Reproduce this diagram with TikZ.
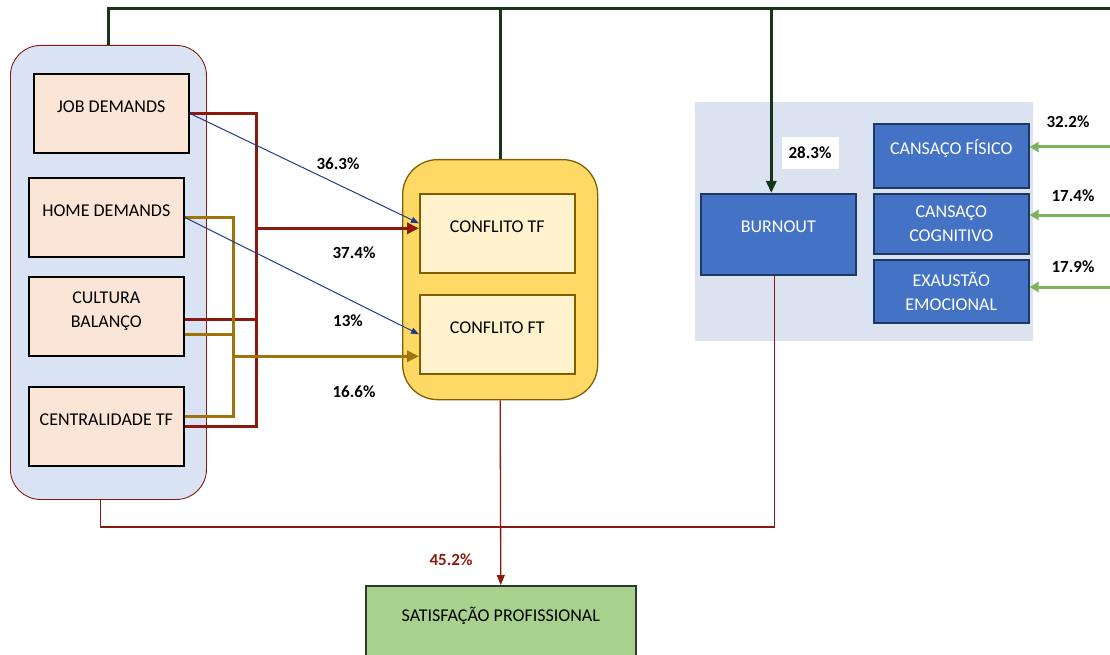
\documentclass[tikz,border=0pt]{standalone}
\usepackage{fontspec}
\setmainfont{Carlito}
\usetikzlibrary{arrows.meta}
\definecolor{ctxblue}{HTML}{DAE3F3}
\definecolor{peach}{HTML}{FBE5D6}
\definecolor{gold}{HTML}{FFD966}
\definecolor{goldedge}{HTML}{7F6000}
\definecolor{cream}{HTML}{FFF2CC}
\definecolor{darkred}{HTML}{8B1A0E}
\definecolor{ochre}{HTML}{A0740A}
\definecolor{navy}{HTML}{1F3C88}
\definecolor{topgreen}{HTML}{173617}
\definecolor{panelblue}{HTML}{DCE3F0}
\definecolor{boxblue}{HTML}{4472C4}
\definecolor{boxedge}{HTML}{1F3864}
\definecolor{leaf}{HTML}{7CB35B}
\definecolor{satgreen}{HTML}{A9D18E}
\definecolor{satedge}{HTML}{2D3B2D}
\begin{document}
\begin{tikzpicture}[x=1pt,y=-1pt,
    font=\fontsize{18}{24}\selectfont,
    inbox/.style={draw, line width=1.6pt, anchor=north west, minimum width=155pt,
        inner ysep=0pt, align=center},
    oneline/.style={text height=39pt, text depth=40pt},
    twoline/.style={text height=51pt, text depth=28pt},
    bluebox/.style={draw=boxedge, fill=boxblue, text=white, line width=1.6pt,
        anchor=north west, minimum width=155pt, align=center},
    pct/.style={font=\fontsize{17}{20}\selectfont\bfseries},
    topline/.style={topgreen, line width=3pt},
    redline/.style={darkred, line width=3pt},
    goldline/.style={ochre, line width=3pt},
    navyline/.style={navy, line width=1pt, -{Triangle[length=8pt,width=6pt]}},
    leafline/.style={leaf, line width=3pt, -{Triangle[length=9pt,width=10pt]}},
    thinred/.style={darkred, line width=1.3pt}]

    \useasboundingbox (0,0) rectangle (1110,655);

    %left block:
    \node[draw=darkred, line width=0.9pt, fill=ctxblue, rounded corners=30pt,
        minimum width=196pt, minimum height=454pt, anchor=north west] (ctx) at (10,45) {};
    \node[inbox, fill=peach, oneline] (job) at (33,73) {JOB DEMANDS};
    \node[inbox, fill=peach, oneline] (home) at (28,177) {HOME DEMANDS};
    \node[inbox, fill=peach, twoline] (cult) at (28,276) {CULTURA\\BALANÇO};
    \node[inbox, fill=peach, oneline] (cent) at (28,386) {CENTRALIDADE TF};

    %conflict block:
    \node[draw=goldedge, line width=1.3pt, fill=gold, rounded corners=35pt,
        minimum width=195pt, minimum height=240pt, anchor=north west] (conf) at (402,159) {};
    \node[inbox, draw=goldedge, fill=cream, oneline] (tf) at (419,193) {CONFLITO TF};
    \node[inbox, draw=goldedge, fill=cream, oneline] (ft) at (419,294) {CONFLITO FT};

    %burnout block:
    \node[fill=panelblue, minimum width=338pt, minimum height=239pt, anchor=north west] (panel) at (695,102) {};
    \node[bluebox, inner ysep=0pt, text height=39pt, text depth=42pt] (burn) at (700,193) {BURNOUT};
    \node[bluebox, inner ysep=0pt, text height=31pt, text depth=33pt] (fis) at (873,123) {CANSAÇO FÍSICO};
    \node[bluebox, minimum height=60pt] (cog) at (873,193) {CANSAÇO\\COGNITIVO};
    \node[bluebox, minimum height=63pt] (exa) at (873,259) {EXAUSTÃO\\EMOCIONAL};
    \node[pct, fill=white, minimum width=57pt, minimum height=32pt] (pburn) at (810,153) {28.3\%};

    %outcome:
    \node[draw=satedge, line width=1.6pt, fill=satgreen, minimum width=270pt, anchor=north west,
        inner ysep=0pt, text height=36pt, text depth=49pt] (sat) at (365,585) {SATISFAÇÃO PROFISSIONAL};

    %top line:
    \coordinate (topend) at (1110,9);
    \draw[topline] (ctx.north) |- (topend);
    \draw[topline] (conf.north) -- (conf.north |- topend);
    \draw[topline, -{Triangle[length=12pt,width=10pt]}] ([xshift=-7pt]burn.north |- topend) -- ([xshift=-7pt]burn.north);

    %demands to conflict:
    \coordinate (rbus) at (256,0);
    \coordinate (gbus) at (233,0);
    \draw[redline] (job.east) -| (rbus |- cent.east) -- (cent.east);
    \draw[redline] ([yshift=-3pt]cult.east) coordinate (cr) -- (cr -| rbus);
    \draw[goldline] (home.east) -| ([yshift=10pt]gbus |- cent.east) -- ([yshift=10pt]cent.east);
    \draw[goldline] ([yshift=-18pt]cult.east) coordinate (cg) -- (cg -| gbus);
    \draw[redline, -{Triangle[length=12pt,width=11pt]}] ([yshift=5pt]rbus |- tf.west) -- ([yshift=5pt]tf.west);
    \draw[goldline, -{Triangle[length=12pt,width=11pt]}] ([yshift=-22pt]gbus |- ft.west) -- ([yshift=-22pt]ft.west);
    \draw[navyline] (job.east) -- ([yshift=10pt]tf.west);
    \draw[navyline] (home.east) -- (ft.west);
    \node[pct] (p1) at (338,164) {36.3\%};
    \node[pct] (p2) at (354,253) {37.4\%};
    \node[pct] (p3) at (348,321) {13\%};
    \node[pct] (p4) at (354,392) {16.6\%};

    %burnout dimensions:
    \coordinate (g1) at (1110,147);
    \coordinate (g2) at (1110,215);
    \coordinate (g3) at (1110,287);
    \draw[leafline] (g1) -- (g1 -| fis.east);
    \draw[leafline] (g2) -- (g2 -| cog.east);
    \draw[leafline] (g3) -- (g3 -| exa.east);
    \node[pct] (p5) at (1068,122) {32.2\%};
    \node[pct] (p6) at (1073,196) {17.4\%};
    \node[pct] (p7) at (1073,267) {17.9\%};

    %to satisfaction:
    \coordinate (join) at (501,527);
    \draw[thinred] ([xshift=-8pt]ctx.south) |- (join) -| ([xshift=-4pt]burn.south);
    \draw[thinred, -{Triangle[length=10pt,width=8pt]}] (conf.south) -- (sat.north);
    \node[pct, text=darkred] (p8) at (451,560) {45.2\%};

\end{tikzpicture}
\end{document}
